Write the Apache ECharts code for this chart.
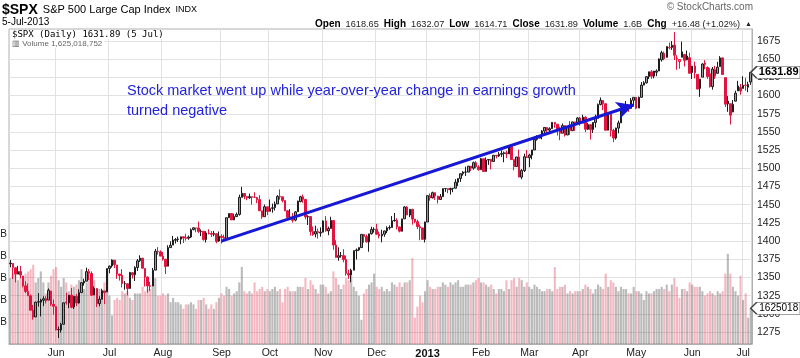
<!DOCTYPE html>
<html><head><meta charset="utf-8">
<script src="https://cdn.jsdelivr.net/npm/echarts@6/dist/echarts.min.js"></script>
<style>html,body{margin:0;padding:0;background:#fff}#c{width:800px;height:358px}</style>
</head><body><div id="c"></div>
<script>
// Trading days per month (categories)
const tradingDays = [
 ['2012-05',[7,8,9,10,11,14,15,16,17,18,21,22,23,24,25,29,30,31]],
 ['2012-06',[1,4,5,6,7,8,11,12,13,14,15,18,19,20,21,22,25,26,27,28,29]],
 ['2012-07',[2,3,5,6,9,10,11,12,13,16,17,18,19,20,23,24,25,26,27,30,31]],
 ['2012-08',[1,2,3,6,7,8,9,10,13,14,15,16,17,20,21,22,23,24,27,28,29,30,31]],
 ['2012-09',[4,5,6,7,10,11,12,13,14,17,18,19,20,21,24,25,26,27,28]],
 ['2012-10',[1,2,3,4,5,8,9,10,11,12,15,16,17,18,19,22,23,24,25,26,31]],
 ['2012-11',[1,2,5,6,7,8,9,12,13,14,15,16,19,20,21,23,26,27,28,29,30]],
 ['2012-12',[3,4,5,6,7,10,11,12,13,14,17,18,19,20,21,24,26,27,28,31]],
 ['2013-01',[2,3,4,7,8,9,10,11,14,15,16,17,18,22,23,24,25,28,29,30,31]],
 ['2013-02',[1,4,5,6,7,8,11,12,13,14,15,19,20,21,22,25,26,27,28]],
 ['2013-03',[1,4,5,6,7,8,11,12,13,14,15,18,19,20,21,22,25,26,27,28]],
 ['2013-04',[1,2,3,4,5,8,9,10,11,12,15,16,17,18,19,22,23,24,25,26,29,30]],
 ['2013-05',[1,2,3,6,7,8,9,10,13,14,15,16,17,20,21,22,23,24,28,29,30,31]],
 ['2013-06',[3,4,5,6,7,10,11,12,13,14,17,18,19,20,21,24,25,26,27,28]],
 ['2013-07',[1,2,3,5]]
];
const monthNames = ['Jan','Feb','Mar','Apr','May','Jun','Jul','Aug','Sep','Oct','Nov','Dec'];
const priceTicks = [1275,1300,1325,1350,1375,1400,1425,1450,1475,1500,1525,1550,1575,1600,1625,1650,1675];

// Daily [open, high, low, close]
const priceOHLC = [
 // May 2012
 [1368.8,1373.9,1363.9,1369.6],[1369.2,1369.2,1347.8,1363.7],[1363.2,1363.7,1343.1,1354.6],[1354.6,1365.9,1354.6,1358.0],
 [1358.1,1365.7,1348.9,1353.4],[1351.9,1351.9,1336.6,1338.4],[1338.4,1344.9,1328.5,1330.7],[1330.8,1341.8,1324.8,1324.8],
 [1324.8,1326.4,1304.9,1304.9],[1305.1,1312.2,1292.0,1295.2],[1295.7,1316.4,1295.7,1316.0],[1316.1,1328.5,1310.0,1316.6],
 [1316.0,1320.7,1296.5,1318.9],[1318.7,1324.1,1310.5,1320.7],[1320.8,1324.2,1314.2,1317.8],[1318.9,1334.9,1318.9,1332.4],
 [1331.3,1331.3,1310.8,1313.3],[1313.1,1319.7,1298.9,1310.3],
 // Jun 2012
 [1309.9,1309.9,1277.3,1278.0],[1278.3,1282.6,1266.7,1278.2],[1277.8,1287.6,1274.2,1285.5],[1285.6,1315.1,1285.6,1315.1],
 [1316.2,1329.1,1312.7,1315.0],[1315.0,1325.8,1307.8,1325.7],[1325.7,1335.5,1307.7,1308.9],[1309.4,1324.3,1306.6,1324.2],
 [1324.0,1327.3,1310.5,1314.9],[1314.9,1333.7,1314.1,1329.1],[1329.2,1343.3,1329.2,1342.8],[1342.4,1348.2,1338.6,1344.8],
 [1344.8,1363.5,1344.8,1358.0],[1358.0,1361.6,1346.5,1355.7],[1355.4,1358.3,1324.4,1325.5],[1325.9,1337.8,1325.9,1335.0],
 [1334.9,1334.9,1309.3,1313.7],[1314.1,1324.2,1310.3,1320.0],[1320.0,1334.4,1320.0,1331.9],[1331.5,1331.5,1313.3,1329.0],
 [1330.1,1362.2,1330.1,1362.2],
 // Jul 2012
 [1362.3,1366.4,1355.7,1365.5],[1365.8,1374.8,1363.5,1374.0],[1373.7,1373.9,1363.0,1367.6],[1367.1,1367.1,1348.0,1354.7],
 [1354.7,1354.9,1345.7,1352.5],[1353.0,1361.5,1336.3,1341.5],[1341.4,1345.0,1333.2,1341.5],[1341.3,1341.3,1325.4,1334.8],
 [1334.8,1357.7,1334.8,1356.8],[1356.5,1357.3,1348.5,1353.6],[1353.7,1365.4,1345.1,1363.7],[1363.6,1375.3,1359.0,1372.8],
 [1373.0,1380.4,1371.2,1376.5],[1376.5,1376.5,1362.2,1362.7],[1362.3,1362.3,1337.6,1350.5],[1350.5,1351.5,1329.2,1338.3],
 [1338.4,1344.0,1331.5,1337.9],[1338.2,1363.1,1338.2,1360.0],[1360.1,1389.2,1360.1,1386.0],[1385.9,1391.7,1381.4,1385.3],
 [1385.3,1387.2,1379.2,1379.3],
 // Aug 2012
 [1379.3,1385.0,1373.1,1375.1],[1375.1,1375.1,1354.7,1365.0],[1365.5,1394.2,1365.5,1391.0],[1391.0,1399.6,1391.0,1394.2],
 [1394.5,1407.1,1394.5,1401.4],[1401.2,1404.1,1396.6,1402.2],[1402.3,1406.0,1398.8,1402.8],[1402.6,1406.0,1395.6,1405.9],
 [1405.9,1405.9,1397.3,1404.1],[1404.4,1410.0,1400.6,1403.9],[1403.9,1407.7,1401.8,1405.5],[1405.6,1417.4,1404.2,1415.5],
 [1415.8,1418.7,1414.7,1418.2],[1417.8,1418.1,1412.1,1418.1],[1418.1,1426.7,1410.9,1413.2],[1413.1,1416.1,1406.8,1413.5],
 [1413.5,1413.5,1400.5,1402.1],[1402.0,1413.5,1398.0,1411.1],[1411.1,1416.2,1409.1,1410.4],[1410.4,1413.6,1405.6,1409.3],
 [1409.3,1414.0,1406.6,1410.5],[1410.1,1410.1,1397.0,1399.5],[1400.1,1413.1,1399.0,1406.6],
 // Sep 2012
 [1406.5,1409.3,1396.6,1404.9],[1404.9,1408.8,1401.3,1403.4],[1403.7,1432.1,1403.7,1432.1],[1432.1,1437.9,1431.8,1437.9],
 [1437.9,1438.7,1429.1,1429.1],[1429.1,1437.8,1429.1,1433.6],[1433.6,1439.2,1433.0,1436.6],[1436.6,1463.8,1435.0,1460.0],
 [1460.1,1474.5,1460.1,1465.8],[1465.4,1465.6,1457.6,1461.2],[1461.2,1461.5,1456.1,1459.3],[1459.5,1465.2,1457.9,1461.1],
 [1461.0,1461.2,1450.0,1460.3],[1460.3,1467.1,1459.5,1460.2],[1459.8,1460.7,1452.1,1456.9],[1457.0,1463.2,1441.6,1441.6],
 [1441.6,1441.6,1430.5,1433.3],[1433.4,1450.2,1433.4,1447.2],[1447.1,1447.1,1435.6,1440.7],
 // Oct 2012
 [1440.9,1457.1,1440.9,1444.5],[1445.0,1451.5,1439.0,1445.8],[1446.1,1454.3,1442.0,1451.0],[1451.1,1463.1,1451.1,1461.4],
 [1461.4,1471.0,1456.9,1460.9],[1460.9,1460.9,1453.1,1455.9],[1455.9,1455.9,1441.2,1441.5],[1441.5,1442.5,1430.6,1432.6],
 [1432.8,1443.9,1432.8,1432.8],[1432.8,1438.4,1425.5,1428.6],[1428.8,1441.3,1427.2,1440.1],[1440.3,1455.5,1440.3,1454.9],
 [1454.2,1462.2,1453.3,1460.9],[1460.9,1464.0,1452.6,1457.3],[1457.3,1457.3,1429.9,1433.2],[1433.2,1435.5,1422.1,1433.8],
 [1433.7,1433.7,1407.6,1413.1],[1413.2,1420.0,1407.1,1408.8],[1409.7,1421.1,1405.1,1413.0],[1413.0,1417.1,1403.3,1411.9],
 [1411.0,1418.8,1406.0,1412.2],
 // Nov 2012
 [1412.2,1428.4,1412.2,1427.6],[1427.6,1434.3,1412.9,1414.2],[1414.0,1419.9,1408.1,1417.3],[1417.3,1433.4,1417.3,1428.4],
 [1428.3,1428.3,1388.1,1394.5],[1394.5,1401.2,1377.5,1377.5],[1377.6,1391.4,1373.0,1379.9],[1379.9,1384.9,1377.2,1380.0],
 [1380.0,1388.8,1370.8,1374.5],[1374.6,1380.1,1352.5,1355.5],[1355.4,1360.6,1348.1,1353.3],[1353.4,1362.0,1343.4,1359.9],
 [1359.9,1386.9,1359.9,1386.9],[1386.8,1389.8,1374.7,1387.8],[1387.8,1391.3,1386.4,1391.0],[1391.0,1409.2,1391.0,1409.2],
 [1409.2,1409.2,1397.7,1406.3],[1406.3,1409.0,1398.0,1398.9],[1398.8,1410.0,1385.4,1409.9],[1410.0,1419.7,1409.0,1416.0],
 [1416.0,1418.9,1411.6,1416.2],
 // Dec 2012
 [1416.3,1423.7,1408.5,1409.5],[1409.5,1413.1,1403.7,1407.1],[1407.1,1415.6,1398.2,1409.3],[1409.4,1414.0,1405.9,1413.9],
 [1414.0,1420.3,1410.9,1418.1],[1418.1,1421.6,1415.6,1418.6],[1418.6,1434.3,1418.6,1427.8],[1427.8,1438.6,1426.8,1428.5],
 [1428.5,1431.4,1416.0,1419.5],[1419.5,1419.5,1411.9,1413.6],[1413.5,1430.7,1413.5,1430.4],[1430.5,1448.0,1430.5,1446.8],
 [1446.8,1447.8,1435.8,1435.8],[1435.8,1443.7,1432.8,1443.7],[1443.7,1443.7,1422.6,1430.2],[1430.2,1430.2,1424.7,1426.7],
 [1426.7,1429.4,1416.4,1419.8],[1419.8,1422.7,1401.1,1418.1],[1418.1,1418.1,1401.6,1402.4],[1402.4,1426.7,1398.1,1426.2],
 // Jan 2013
 [1426.2,1462.4,1426.2,1462.4],[1462.4,1465.5,1455.5,1459.4],[1459.4,1467.9,1458.6,1466.5],[1466.5,1466.5,1456.6,1461.9],
 [1461.9,1461.9,1451.6,1457.2],[1457.2,1464.7,1457.2,1461.0],[1461.0,1472.3,1461.0,1472.1],[1472.1,1472.8,1467.6,1472.1],
 [1472.1,1472.1,1465.7,1470.7],[1470.7,1473.3,1463.8,1472.3],[1472.3,1473.0,1467.1,1472.6],[1472.6,1485.2,1472.6,1480.9],
 [1480.9,1486.0,1475.8,1486.0],[1486.0,1492.6,1481.2,1492.6],[1492.6,1496.1,1489.9,1494.8],[1494.8,1502.3,1489.5,1494.8],
 [1494.8,1503.3,1494.8,1503.0],[1503.0,1503.2,1496.3,1500.2],[1500.2,1509.3,1498.1,1507.8],[1507.8,1509.9,1500.1,1502.0],
 [1502.0,1504.2,1496.8,1498.1],
 // Feb 2013
 [1498.1,1514.4,1498.1,1513.2],[1513.2,1513.2,1495.0,1495.7],[1495.7,1515.0,1495.7,1511.3],[1511.3,1512.5,1504.7,1512.1],
 [1512.1,1512.9,1498.5,1509.4],[1509.4,1518.3,1509.4,1517.9],[1517.9,1518.3,1513.6,1517.0],[1517.0,1522.3,1515.6,1519.4],
 [1519.4,1524.7,1515.6,1520.3],[1520.3,1523.1,1508.3,1521.4],[1521.4,1524.2,1514.1,1519.8],[1519.8,1530.9,1519.8,1530.9],
 [1530.9,1530.9,1511.4,1512.0],[1512.0,1512.0,1497.3,1502.4],[1502.4,1515.6,1502.4,1515.6],[1515.6,1525.8,1487.9,1487.9],
 [1487.9,1498.9,1485.0,1496.9],[1496.9,1520.1,1494.9,1516.0],[1516.0,1525.3,1514.5,1514.7],
 // Mar 2013
 [1514.7,1520.0,1501.5,1518.2],[1518.2,1525.3,1512.3,1525.2],[1525.2,1543.5,1525.2,1539.8],[1539.8,1545.3,1538.1,1541.5],
 [1541.5,1545.8,1541.5,1544.3],[1544.3,1552.5,1539.9,1551.2],[1551.2,1556.3,1547.4,1556.2],[1556.2,1556.8,1548.2,1552.5],
 [1552.5,1556.4,1548.3,1554.5],[1554.5,1563.3,1554.5,1563.2],[1563.2,1563.6,1555.7,1560.7],[1560.7,1560.7,1545.1,1552.1],
 [1552.1,1557.3,1538.6,1548.3],[1548.3,1561.6,1548.3,1558.7],[1558.7,1558.7,1543.6,1545.8],[1545.8,1557.7,1545.8,1556.9],
 [1556.9,1564.9,1546.2,1551.7],[1551.7,1563.9,1551.7,1563.8],[1563.8,1564.1,1551.5,1562.9],[1562.9,1570.3,1561.1,1569.2],
 // Apr 2013
 [1569.2,1570.6,1558.5,1562.2],[1562.2,1573.7,1562.2,1570.3],[1570.3,1571.5,1549.8,1553.7],[1553.7,1562.6,1552.5,1560.0],
 [1560.0,1560.0,1539.5,1553.3],[1553.3,1563.1,1548.6,1563.1],[1563.1,1573.9,1556.0,1568.6],[1568.6,1589.1,1568.6,1587.7],
 [1587.7,1597.4,1586.5,1593.4],[1593.3,1593.3,1580.0,1588.9],[1588.8,1588.8,1552.3,1552.4],[1552.4,1575.4,1552.4,1574.6],
 [1574.6,1574.6,1543.7,1552.0],[1552.0,1554.4,1536.0,1541.6],[1541.6,1555.9,1539.4,1555.3],[1555.3,1565.6,1548.2,1562.5],
 [1562.5,1579.6,1562.5,1578.8],[1578.8,1583.0,1575.8,1578.8],[1578.8,1592.6,1578.8,1585.2],[1585.2,1585.8,1577.6,1582.2],
 [1582.3,1596.7,1582.3,1593.6],[1593.6,1597.6,1586.5,1597.6],
 // May 2013
 [1597.6,1597.6,1581.3,1582.7],[1582.8,1598.6,1582.8,1597.6],[1597.6,1618.5,1597.6,1614.4],[1614.4,1619.8,1614.2,1617.5],
 [1617.5,1626.0,1616.6,1626.0],[1626.0,1632.8,1622.7,1632.7],[1632.7,1635.0,1623.1,1626.7],[1626.7,1633.7,1623.7,1633.7],
 [1632.1,1636.0,1626.7,1633.8],[1633.8,1651.1,1633.8,1650.3],[1649.1,1661.5,1646.7,1658.8],[1658.1,1660.5,1648.6,1650.5],
 [1652.5,1667.5,1652.5,1667.5],[1665.7,1672.8,1663.5,1666.3],[1666.2,1674.9,1662.7,1669.2],[1669.4,1687.2,1648.9,1655.4],
 [1651.6,1655.5,1635.5,1650.5],[1646.7,1649.8,1636.9,1649.6],[1652.6,1674.2,1652.6,1660.1],[1656.6,1656.6,1640.1,1648.4],
 [1649.1,1661.9,1648.6,1654.4],[1652.1,1659.0,1630.7,1630.7],
 // Jun 2013
 [1631.7,1640.4,1622.7,1640.4],[1640.7,1646.5,1623.6,1631.4],[1629.1,1629.3,1608.4,1608.9],[1609.9,1622.6,1598.2,1622.6],
 [1625.3,1644.4,1625.3,1643.4],[1644.7,1648.7,1636.3,1642.8],[1638.6,1640.1,1622.9,1626.1],[1629.9,1637.7,1610.9,1612.5],
 [1612.2,1639.3,1608.1,1636.4],[1635.5,1640.8,1623.0,1626.7],[1630.6,1646.5,1630.3,1639.0],[1639.8,1654.2,1639.8,1651.8],
 [1651.8,1652.4,1628.9,1628.9],[1624.6,1624.6,1584.3,1588.2],[1588.6,1599.2,1577.7,1592.4],[1588.8,1588.8,1560.3,1573.1],
 [1577.5,1593.8,1577.1,1588.0],[1592.3,1606.8,1592.3,1603.3],[1606.4,1620.1,1606.4,1613.2],[1611.1,1615.9,1601.1,1606.3],
 // Jul 2013
 [1609.8,1626.6,1609.8,1614.1],[1614.3,1624.3,1606.8,1614.0],[1611.5,1619.0,1604.6,1615.4],[1618.65,1632.07,1614.71,1631.89]
];

// Daily volume, billions of shares
const volumeB = [
 3.0,3.2,3.3,2.9,3.0,3.1,3.2,3.3,3.4,3.6,2.8,3.0,3.3,2.8,2.3,2.8,3.1,3.4,
 3.5,2.9,2.6,3.0,2.8,2.4,2.7,2.6,2.7,2.9,3.4,2.5,2.8,3.0,3.2,2.9,2.5,2.5,2.4,2.8,3.2,
 2.2,1.3,2.0,2.1,2.0,2.4,2.3,2.4,2.1,2.0,2.3,2.3,2.3,2.6,2.4,2.5,2.5,2.7,3.0,2.2,2.2,
 2.3,2.2,2.3,1.9,2.1,1.9,1.9,1.8,1.6,1.8,1.8,1.9,1.8,1.6,2.0,2.0,2.1,1.8,1.6,1.8,1.6,1.9,2.1,
 2.3,2.2,2.6,2.5,2.2,2.3,2.4,2.8,3.5,2.4,2.3,2.4,2.3,2.8,2.4,2.5,2.6,2.4,2.5,
 2.4,2.5,2.6,2.4,2.5,1.9,2.5,2.6,2.4,2.4,2.4,2.6,2.6,2.6,3.0,2.5,2.9,2.7,2.5,2.3,2.7,
 2.7,2.6,2.3,2.4,3.3,3.0,2.7,2.5,2.7,3.0,2.9,3.1,2.6,2.4,2.2,1.1,2.3,2.5,2.7,2.8,3.2,
 2.6,2.5,2.6,2.4,2.5,2.4,2.8,2.7,2.6,2.8,2.6,2.8,2.8,2.9,3.9,1.2,1.7,2.2,1.9,2.4,
 2.9,2.6,2.5,2.5,2.6,2.6,2.8,2.7,2.6,2.8,2.7,2.8,2.9,2.6,2.6,2.7,2.7,2.7,2.8,2.9,3.0,
 2.8,2.8,2.7,2.6,2.7,2.5,2.3,2.5,2.5,2.4,2.9,2.5,2.9,3.0,2.6,3.0,2.9,2.6,2.8,
 2.6,2.5,2.7,2.6,2.5,2.4,2.4,2.5,2.5,2.4,3.5,2.5,2.6,2.6,2.7,2.3,2.4,2.3,2.4,2.4,
 2.4,2.5,2.7,2.6,2.5,2.3,2.5,2.7,2.6,2.5,3.2,2.6,2.9,2.8,2.6,2.4,2.6,2.5,2.5,2.3,2.3,2.6,
 2.4,2.4,2.3,2.0,2.4,2.3,2.3,2.4,2.5,2.5,2.6,2.5,2.7,2.4,2.7,3.0,2.6,2.1,2.5,2.5,2.4,2.8,
 2.7,2.6,2.6,2.6,2.4,2.2,2.3,2.4,2.3,2.2,2.4,2.3,2.4,3.2,4.1,3.2,2.6,2.4,2.2,3.1,
 2.0,2.3,1.2,1.625018752
];

// ---- build categories ----
const categories = [];
tradingDays.forEach(([ym, days]) => days.forEach(d => categories.push(ym + '-' + String(d).padStart(2, '0'))));
const isMonthStart = categories.map((c, i) => i > 0 && c.slice(0, 7) !== categories[i - 1].slice(0, 7));

const RED = '#e3143f', BLACK = '#1c1c1c';
const candleData = priceOHLC.map((r, i) => {
  const [o, h, l, c] = r;
  const prev = i > 0 ? priceOHLC[i - 1][3] : o;
  const stroke = c < prev ? RED : BLACK;
  const fill = c > o ? (c < prev ? '#f3a9b8' : '#9a9a9a') : stroke;
  return { value: [o, c, l, h], itemStyle: { color: fill, color0: fill, borderColor: stroke, borderColor0: stroke } };
});
const volumeData = volumeB.map((v, i) => {
  const c = priceOHLC[i][3];
  const prev = i > 0 ? priceOHLC[i - 1][3] : priceOHLC[i][0];
  return { value: v, itemStyle: { color: c < prev ? 'rgba(226,40,70,0.33)' : 'rgba(70,70,70,0.37)' } };
});
const last = categories.length - 1;

const FONT = "'Liberation Sans', Arial, sans-serif";
const chart = echarts.init(document.getElementById('c'), null, { renderer: 'canvas' });
chart.setOption({
  animation: false,
  backgroundColor: '#fff',
  title: [
    { left: 2, top: 1, padding: 0,
      text: '{a|$SPX} {b|S&P 500 Large Cap Index} {c|INDX}',
      textStyle: { rich: {
        a: { fontFamily: FONT, fontSize: 14, fontWeight: 'bold', color: '#000' },
        b: { fontFamily: FONT, fontSize: 11, fontWeight: 'normal', color: '#000' },
        c: { fontFamily: FONT, fontSize: 9, fontWeight: 'normal', color: '#000' } } } },
    { left: 2, top: 17, padding: 0, text: '5-Jul-2013',
      textStyle: { fontFamily: FONT, fontSize: 10, fontWeight: 'normal', color: '#000' } },
    { right: 48, top: 15, padding: 0,
      text: '{l|Open} {v|1618.65} {l|High} {v|1632.07} {l|Low} {v|1614.71} {l|Close} {v|1631.89} {l|Volume} {v|1.6B} {l|Chg} {v|+16.48 (+1.02%)} {t|▲}',
      textStyle: { rich: {
        l: { fontFamily: FONT, fontSize: 10, fontWeight: 'bold', color: '#000' },
        v: { fontFamily: FONT, fontSize: 9.2, fontWeight: 'normal', color: '#222' },
        t: { fontFamily: FONT, fontSize: 7, fontWeight: 'normal', color: '#222' } } } },
    { right: 47, top: 2, padding: 0, text: '© StockCharts.com',
      textStyle: { fontFamily: FONT, fontSize: 10, fontWeight: 'normal', color: '#666' } },
    { left: 10, top: 30, padding: [0, 2], backgroundColor: '#fff',
      text: '$SPX (Daily) 1631.89 (5 Jul)',
      textStyle: { fontFamily: "'DejaVu Sans Mono', monospace", fontSize: 9, fontWeight: 'normal', color: '#000' } },
    { left: 10, top: 40, padding: [0, 2], backgroundColor: '#fff',
      text: '▥ Volume 1,625,018,752',
      textStyle: { fontFamily: FONT, fontSize: 8, fontWeight: 'normal', color: '#666' } },
    { left: 127, top: 81, padding: 0,
      text: 'Stock market went up while year-over-year change in earnings growth\nturned negative',
      textStyle: { fontFamily: FONT, fontSize: 14.5, fontWeight: 'normal', color: '#2323dc', lineHeight: 20 } }
  ],
  grid: { left: 9, right: 48, top: 29, bottom: 14, containLabel: false, outerBoundsMode: 'none',
    show: true, borderColor: '#b0b0b0', borderWidth: 1, backgroundColor: 'transparent' },
  xAxis: {
    type: 'category', data: categories, boundaryGap: true,
    axisLine: { show: true, lineStyle: { color: '#b0b0b0' } },
    axisTick: { show: false },
    axisLabel: {
      interval: (i) => isMonthStart[i],
      margin: 4,
      fontFamily: FONT, fontSize: 10.5, color: '#222',
      formatter: (v) => {
        const m = +v.slice(5, 7);
        return m === 1 ? '{y|' + v.slice(0, 4) + '}' : monthNames[m - 1];
      },
      rich: { y: { fontFamily: FONT, fontSize: 11, fontWeight: 'bold', color: '#111' } }
    },
    splitLine: { show: true, interval: (i) => isMonthStart[i], lineStyle: { color: '#e2e2e2', width: 1 } }
  },
  yAxis: [
    { type: 'value', position: 'right', min: 1258.5, max: 1691.5, scale: true,
      axisLine: { show: true, lineStyle: { color: '#b0b0b0' } },
      axisTick: { show: false, customValues: priceTicks },
      axisLabel: { customValues: priceTicks, margin: 5, fontFamily: FONT, fontSize: 10.5, color: '#222',
        formatter: (v) => String(v) },
      splitLine: { show: true, lineStyle: { color: '#e2e2e2', width: 1 } } },
    { type: 'value', position: 'left', min: 0, max: 14.32, interval: 1,
      axisLine: { show: false }, axisTick: { show: false },
      axisLabel: { margin: 2, fontFamily: FONT, fontSize: 10, color: '#222',
        formatter: (v) => (v >= 1 && v <= 5) ? v.toFixed(1) + 'B' : '' },
      splitLine: { show: false } }
  ],
  series: [
    { name: 'Volume', type: 'bar', xAxisIndex: 0, yAxisIndex: 1, data: volumeData,
      barCategoryGap: '18%', z: 1, silent: true,
      markPoint: { silent: true, animation: false,
        symbol: 'path://M0,6 L6,0 L50,0 L50,12 L6,12 Z', symbolSize: [50, 12], symbolOffset: [25, 0],
        itemStyle: { color: '#fff', borderColor: '#444', borderWidth: 1 },
        label: { show: true, position: 'inside', offset: [3, 0], fontFamily: FONT, fontSize: 10, color: '#000' },
        data: [{ coord: [categories[last], volumeB[last]], value: '1625018' }] } },
    { name: '$SPX', type: 'candlestick', xAxisIndex: 0, yAxisIndex: 0, data: candleData,
      barWidth: '78%', z: 3, silent: true,
      markLine: { silent: true, animation: false, symbol: ['none', 'arrow'], symbolSize: [13, 17],
        lineStyle: { color: '#1717d6', width: 3, type: 'solid' },
        label: { show: false },
        data: [[{ coord: [categories[83], 1400] }, { coord: [categories[245], 1587] }]] },
      markPoint: { silent: true, animation: false,
        symbol: 'path://M0,6 L6,0 L50,0 L50,12 L6,12 Z', symbolSize: [50, 12], symbolOffset: [25, 0],
        itemStyle: { color: '#fff', borderColor: '#444', borderWidth: 1 },
        label: { show: true, position: 'inside', offset: [3, 0], fontFamily: FONT, fontSize: 11, fontWeight: 'bold', color: '#000' },
        data: [{ coord: [categories[last], 1631.89], value: '1631.89' }] } }
  ]
});
</script></body></html>
